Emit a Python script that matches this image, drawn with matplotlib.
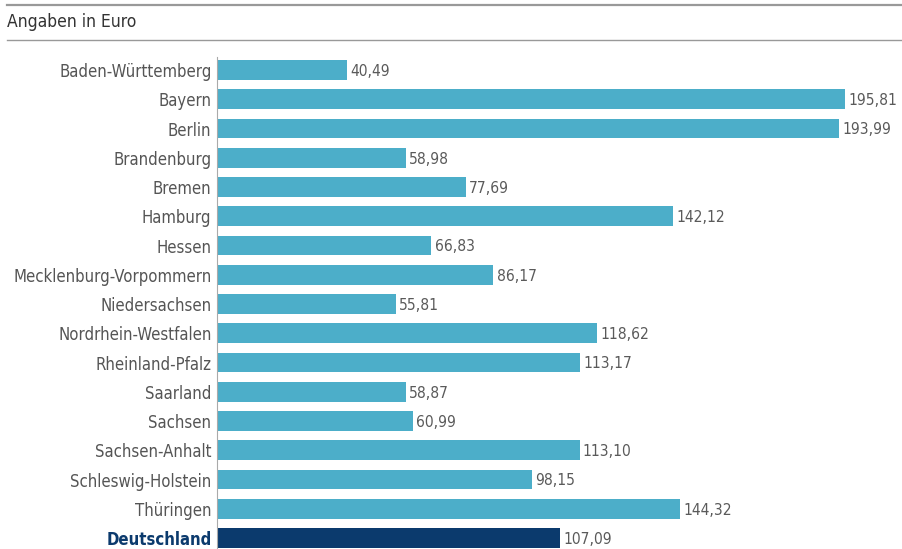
import matplotlib.pyplot as plt
from matplotlib.lines import Line2D

regions = ['Baden-Württemberg', 'Bayern', 'Berlin', 'Brandenburg', 'Bremen',
           'Hamburg', 'Hessen', 'Mecklenburg-Vorpommern', 'Niedersachsen',
           'Nordrhein-Westfalen', 'Rheinland-Pfalz', 'Saarland', 'Sachsen',
           'Sachsen-Anhalt', 'Schleswig-Holstein', 'Thüringen', 'Deutschland']
values = [40.49, 195.81, 193.99, 58.98, 77.69, 142.12, 66.83, 86.17, 55.81,
          118.62, 113.17, 58.87, 60.99, 113.10, 98.15, 144.32, 107.09]

W, H = 902, 549
fig = plt.figure(figsize=(W / 100, H / 100), dpi=100)
plt.rcParams['font.family'] = ['DejaVu Sans']

# axes placed in pixel terms
left_px, top_px = 217, 42
ax = fig.add_axes([left_px / W, 0, 1 - left_px / W, 1 - top_px / H])

colors = ['#4caec9'] * (len(regions) - 1) + ['#0b3a6d']
y = list(range(len(regions)))
ax.barh(y, values, height=0.68, color=colors, zorder=2)

ax.set_xlim(0, (W - left_px) / 3.207)
ax.set_ylim((H - 70) / 29.25, (top_px - 70) / 29.25)

for yi, v in zip(y, values):
    ax.text(v + 1.0, yi + 0.05, f'{v:.2f}'.replace('.', ','), va='center', ha='left',
            fontsize=11.2, color='#5a5a5a', fontstretch='condensed')

ax.set_yticks(y)
ax.set_yticklabels(regions, fontsize=12, color='#555555', fontstretch='condensed')
lab = ax.get_yticklabels()[-1]
lab.set_fontweight('bold')
lab.set_color('#0b3a6d')
ax.tick_params(axis='y', length=0, pad=4)
ax.set_xticks([])
for s in ['top', 'right', 'bottom']:
    ax.spines[s].set_visible(False)
ax.spines['left'].set_color('#aaaaaa')
ax.spines['left'].set_linewidth(0.8)
ax.spines['left'].set_bounds((H - 70) / 29.25, -0.45)

# header lines and title
fig.add_artist(Line2D([7 / W, 1], [1 - 5 / H, 1 - 5 / H], color='#999999', lw=1.6))
fig.add_artist(Line2D([7 / W, 1], [1 - 40 / H, 1 - 40 / H], color='#999999', lw=1.0))
fig.text(7 / W, 1 - 22 / H, 'Angaben in Euro', fontsize=12.5, color='#333333',
         va='center', ha='left', fontstretch='condensed')

fig.savefig('out.png', dpi=100)
